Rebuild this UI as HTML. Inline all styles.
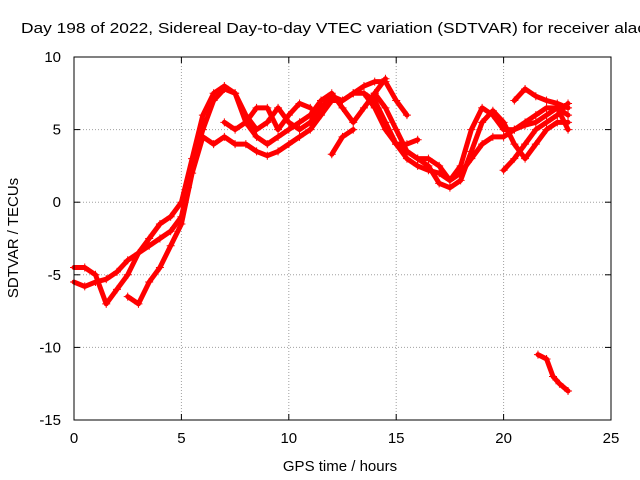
<!DOCTYPE html>
<html><head><meta charset="utf-8"><style>
html,body{margin:0;padding:0;background:#fff;overflow:hidden;}
svg{display:block;font-family:"Liberation Sans",sans-serif;}
</style></head><body>
<svg id="chart" width="640" height="480">
<text x="21" y="33" font-size="15" fill="#000" textLength="625" lengthAdjust="spacingAndGlyphs">Day 198 of 2022, Sidereal Day-to-day VTEC variation (SDTVAR) for receiver alac</text>
<g id="grid"></g>
<g id="series" fill="none"></g>
<rect x="74" y="57" width="537" height="363" fill="none" stroke="#000" stroke-width="1"/>
<g id="axes"></g>
<text x="340" y="471" font-size="15" text-anchor="middle">GPS time / hours</text>
<text transform="translate(18,238) rotate(-90)" font-size="15" text-anchor="middle">SDTVAR / TECUs</text>
</svg>
<script>
const xTicks=[0,5,10,15,20,25];
const yTicks=[-15,-10,-5,0,5,10];
const trackA=[[0,-5.5],[0.5,-5.8],[1,-5.5],[1.5,-5.3],[2,-4.8],[2.5,-4],[3,-3.5],[3.5,-3],[4,-2.5],[4.5,-2],[5,-1],[5.3,1],[5.6,3],[6,5],[6.5,7],[7,7.8],[7.5,7.5],[8,6],[8.5,5],[9,5.5],[9.5,6.5],[10,5.5],[10.5,5],[11,5.5],[11.5,6.5],[12,7.3],[12.5,7],[13,7.5],[13.5,8],[14,8.3],[14.5,8.3],[15,7],[15.5,6]];
const trackB=[[0,-4.5],[0.5,-4.5],[1,-5],[1.5,-7],[2,-6],[2.5,-5],[3,-3.5],[3.5,-2.5],[4,-1.5],[4.5,-1],[5,0],[5.5,3],[6,6],[6.5,7.5],[7,8],[7.5,7.5],[8,5.5],[8.5,4.5],[9,4],[9.5,4.5],[10,5],[10.5,5.5],[11,6],[11.5,7],[12,7.5],[12.5,6.5],[13,5.5],[13.5,6.5],[14,7.5],[14.5,8.5]];
const trackC=[[2.5,-6.5],[3,-7],[3.5,-5.5],[4,-4.5],[4.5,-3],[5,-1.5],[5.5,2],[6,4.5],[6.5,4],[7,4.5],[7.5,4],[8,4],[8.5,3.5],[9,3.2],[9.5,3.5],[10,4],[10.5,4.5],[11,5],[11.5,6],[12,7],[12.5,7],[13,7.5],[13.5,7.5],[14,6.5],[14.5,5],[15,4],[15.5,3],[16,2.5],[16.5,2.2],[17,2],[17.5,1.5],[18,2],[18.5,3],[19,4],[19.5,4.5],[20,4.5],[20.5,5],[21,5.5],[21.5,6],[22,6.5],[22.5,6.5],[23,6]];
const trackD=[[13.5,7.5],[14,7],[14.5,5.5],[15,4],[15.5,3.5],[16,3],[16.5,3],[17,2.5],[17.5,1.5],[18,2.5],[18.5,5],[19,6.5],[19.5,6],[20,5],[20.5,5],[21,5.3],[21.5,5.5],[22,6],[22.5,6.5],[23,5]];
const trackE=[[14,7.5],[14.5,6.5],[15,5],[15.5,3.5],[16,3],[16.5,2.5],[17,1.3],[17.5,1],[18,1.5],[18.5,3.5],[19,5.5],[19.5,6.3],[20,5.5],[20.5,4],[21,3],[21.5,4],[22,5],[22.5,5.5],[23,5.5]];
const trackF=[[12,3.3],[12.5,4.5],[13,5]];
const trackG=[[20,2.2],[20.5,3],[21,4],[21.5,5],[22,5.5],[22.5,6],[23,6.8]];
const trackH=[[20.5,7],[21,7.8],[21.5,7.3],[22,7],[22.5,6.8],[23,6.5]];
const trackI=[[15,4],[15.5,4],[16,4.3]];
const trackJ=[[21.6,-10.5],[22,-10.8],[22.3,-12],[22.6,-12.5],[23,-13]];
const trackK=[[7,5.5],[7.5,5],[8,5.5],[8.5,6.5],[9,6.5],[9.5,5],[10,6],[10.5,6.8],[11,6.5]];
const tracks=[trackA,trackB,trackC,trackD,trackE,trackF,trackG,trackH,trackI,trackJ,trackK];
const NS="http://www.w3.org/2000/svg";
const X0=74,X1=611,Y0=420,Y1=57;
function sx(v){return X0+(v-0)/(25-0)*(X1-X0);}
function sy(v){return Y0-(v+15)/(10+15)*(Y0-Y1);}
const grid=document.getElementById('grid'),axes=document.getElementById('axes'),ser=document.getElementById('series');
function mk(tag,at,parent){const e=document.createElementNS(NS,tag);for(const k in at)e.setAttribute(k,at[k]);parent.appendChild(e);return e;}
xTicks.forEach(t=>{
 const x=sx(t);
 if(t>0&&t<25){const g=mk('line',{x1:x,x2:x,y1:Y1,y2:Y0,stroke:'#a0a0a0','stroke-dasharray':'1,2'},grid);
 
 }
 mk('line',{x1:x,x2:x,y1:Y0,y2:Y0-6,stroke:'#000'},axes);
 mk('line',{x1:x,x2:x,y1:Y1,y2:Y1+6,stroke:'#000'},axes);
 const l=mk('text',{x:x,y:Y0+23,'font-size':15,'text-anchor':'middle'},axes);l.textContent=t;
 
 
});
yTicks.forEach(t=>{
 const y=sy(t);
 if(t>-15&&t<10){const g=mk('line',{x1:X0,x2:X1,y1:y,y2:y,stroke:'#a0a0a0','stroke-dasharray':'1,2'},grid);
 
 }
 mk('line',{x1:X0,x2:X0+6,y1:y,y2:y,stroke:'#000'},axes);
 mk('line',{x1:X1,x2:X1-6,y1:y,y2:y,stroke:'#000'},axes);
 const l=mk('text',{x:X0-13,y:y+5,'font-size':15,'text-anchor':'end'},axes);l.textContent=t;
 
 
});
tracks.forEach((tr,i)=>{
 const g=mk('g',{},ser);
 
 
 mk('polyline',{points:tr.map(p=>sx(p[0])+','+sy(p[1])).join(' '),stroke:'#ff0000','stroke-width':5,'stroke-linejoin':'round','stroke-linecap':'round',fill:'none'},g);
 tr.forEach(p=>{const x=sx(p[0]),y=sy(p[1]);
  mk('path',{d:`M${x-4},${y}h8M${x},${y-4}v8`,stroke:'#ff0000','stroke-width':1},g);});
});
</script>
</body></html>
